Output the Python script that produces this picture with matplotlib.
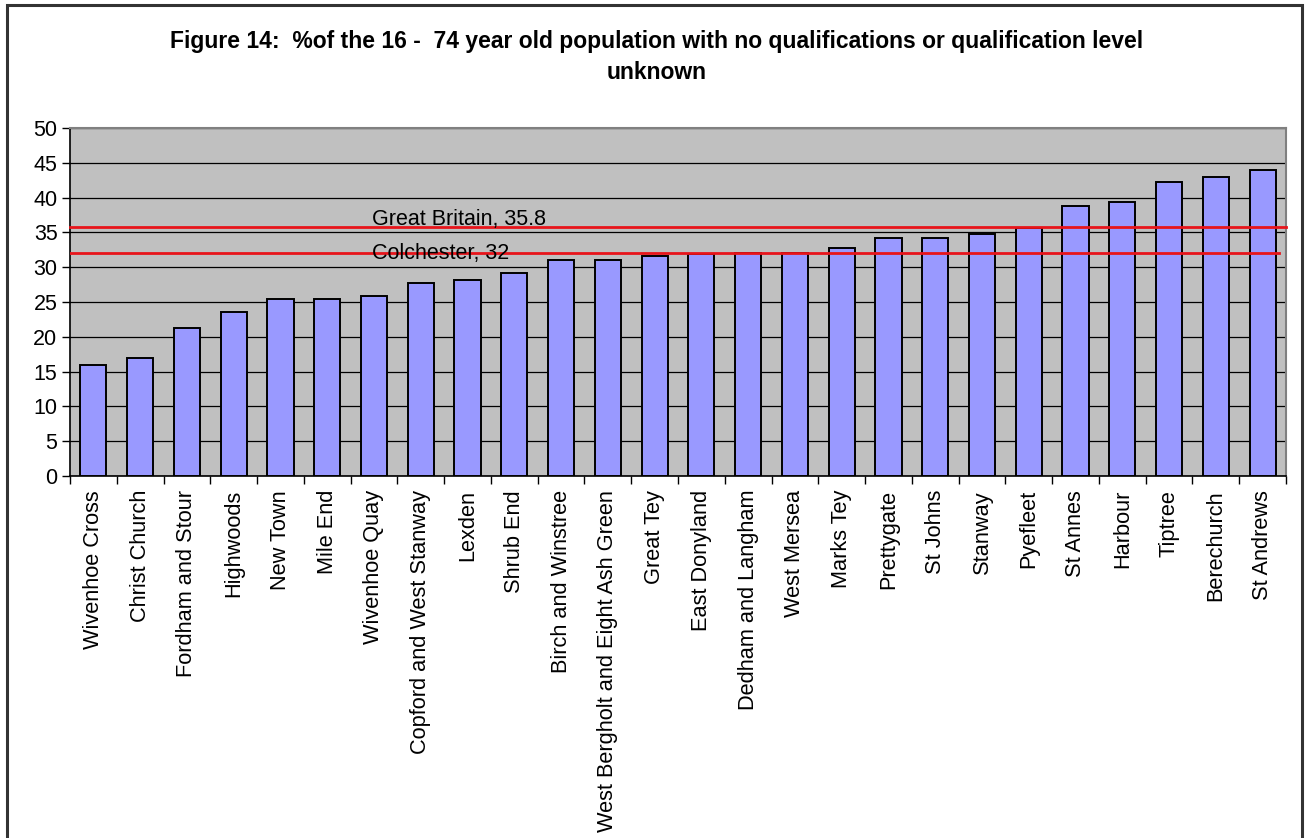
import matplotlib
matplotlib.use("Agg")
import matplotlib.pyplot as plt
from matplotlib.patches import Rectangle
from matplotlib.ticker import MultipleLocator, FixedLocator

plt.rcParams['font.family'] = ['Liberation Sans', 'DejaVu Sans']

wards = [
    "Wivenhoe Cross", "Christ Church", "Fordham and Stour", "Highwoods",
    "New Town", "Mile End", "Wivenhoe Quay", "Copford and West Stanway",
    "Lexden", "Shrub End", "Birch and Winstree",
    "West Bergholt and Eight Ash Green", "Great Tey", "East Donyland",
    "Dedham and Langham", "West Mersea", "Marks Tey", "Prettygate",
    "St Johns", "Stanway", "Pyefleet", "St Annes", "Harbour", "Tiptree",
    "Berechurch", "St Andrews",
]
pct_no_quals = [
    16.0, 16.9, 21.2, 23.5, 25.5, 25.5, 25.8, 27.8, 28.1, 29.2, 31.0,
    31.0, 31.6, 31.9, 32.1, 32.1, 32.7, 34.2, 34.2, 34.7, 35.6, 38.8,
    39.3, 42.2, 43.0, 43.9,
]
benchmark_names = ["Great Britain", "Colchester"]
benchmark_values = [35.8, 32]

title = ("Figure 14:  %of the 16 -  74 year old population with no "
         "qualifications or qualification level\nunknown")

W, H = 1305, 838
fig = plt.figure(figsize=(W / 100, H / 100), dpi=100)
fig.patch.set_facecolor("white")

# outer chart frame
fig.patches.append(Rectangle((7 / W, -0.01), (1302 - 7) / W, 1.01 - 5 / H,
                             transform=fig.transFigure, fill=False,
                             edgecolor="#333333", linewidth=2.2))

ax_l, ax_r, ax_t, ax_b = 70, 1286, 128, 476
ax = fig.add_axes([ax_l / W, 1 - ax_b / H, (ax_r - ax_l) / W, (ax_b - ax_t) / H])
ax.set_facecolor("#C0C0C0")

x = list(range(len(wards)))
ax.bar(x, pct_no_quals, width=0.56, color="#9999FF", edgecolor="black",
       linewidth=1.4, zorder=3)

ax.set_xlim(-0.5, len(wards) - 0.5)
ax.set_ylim(0, 50)
ax.yaxis.set_major_locator(MultipleLocator(5))
ax.grid(axis="y", color="#000000", linewidth=0.9, zorder=1)
ax.set_axisbelow(True)

ax.set_xticks(x)
ax.set_xticklabels(wards, rotation=90, fontsize=15.7)
ax.xaxis.set_minor_locator(FixedLocator([i - 0.5 for i in range(len(wards) + 1)]))
ax.tick_params(axis="x", which="major", length=0, pad=10)
ax.tick_params(axis="x", which="minor", length=6, width=1, color="black")
ax.tick_params(axis="y", length=6, width=1, labelsize=15.5, pad=3)

for side in ("top", "right"):
    ax.spines[side].set_color("#808080")
    ax.spines[side].set_linewidth(1.5)
for side in ("left", "bottom"):
    ax.spines[side].set_color("black")
    ax.spines[side].set_linewidth(1.2)

# benchmark lines with their labels
gb, col = benchmark_values
ax.axhline(gb, color="#E8141A", linewidth=2, zorder=4, clip_on=False)
ax.axhline(col, xmax=0.994, color="#E8141A", linewidth=2, zorder=4)
ax.annotate(f"{benchmark_names[0]}, {gb}", xy=(5.96, gb), xytext=(0, 1),
            textcoords="offset points", fontsize=15.5, va="baseline", ha="left",
            zorder=5)
ax.annotate(f"{benchmark_names[1]}, {col}", xy=(5.96, col), xytext=(0, -4),
            textcoords="offset points", fontsize=15.5, va="baseline", ha="left",
            zorder=5)

fig.text(0.503, 1 - 57 / H, title, ha="center", va="center",
         multialignment="center", fontsize=16.5, fontweight="bold",
         linespacing=1.45)

fig.savefig("out.png", dpi=100, facecolor="white")
